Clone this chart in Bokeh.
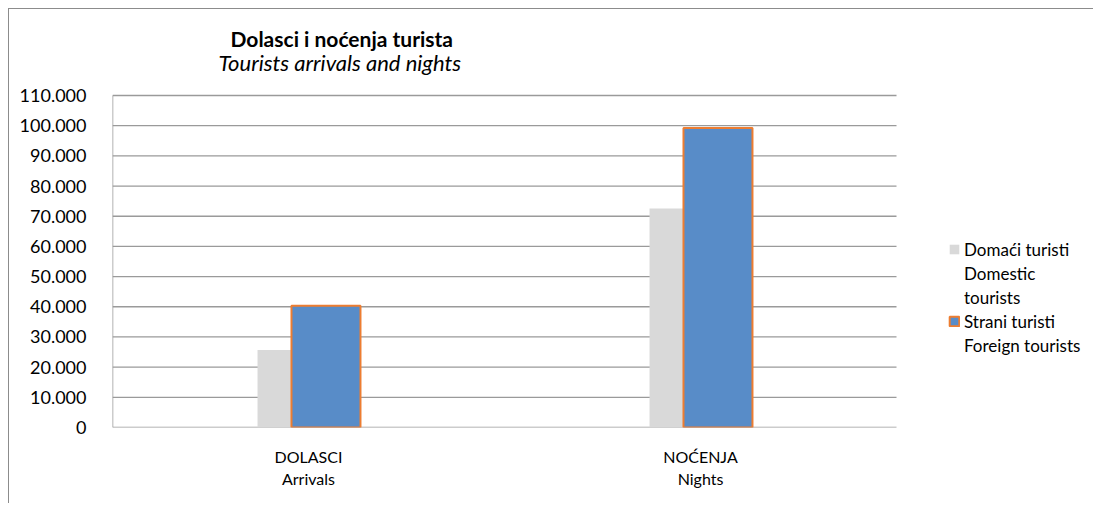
from bokeh.plotting import figure
from bokeh.models import (ColumnDataSource, Range1d, FixedTicker, Legend, LegendItem, Label)
from bokeh.embed import file_html
from bokeh.resources import INLINE

categories = ["DOLASCI\nArrivals", "NOĆENJA\nNights"]
domestic = [25700, 72600]
foreign = [40300, 99200]
y_ticks = [0, 10000, 20000, 30000, 40000, 50000, 60000, 70000, 80000, 90000, 100000, 110000]
y_tick_labels = ["0", "10.000", "20.000", "30.000", "40.000", "50.000", "60.000",
                 "70.000", "80.000", "90.000", "100.000", "110.000"]
legend_labels = ["Domaći turisti", "Domestic", "tourists", "Strani turisti", "Foreign tourists"]
title_main = "Dolasci i noćenja turista"
title_sub = "Tourists arrivals and nights"

FONT = "Lato"

# layout constants (pixels)
W, H = 1085, 495
LEFT, BOTTOM = 103, 77
CAT_PX = 392            # width of one category
AXIS_PX = 332           # height of the 0..110000 axis
Y_MAX = y_ticks[-1]

xc = [i + 0.5 for i in range(len(categories))]
DOM_OFF, DOM_W = -0.0867, 0.0867
FOR_OFF, FOR_W = 0.0446, 0.176

src = ColumnDataSource(dict(
    x_dom=[x + DOM_OFF for x in xc], x_for=[x + FOR_OFF for x in xc],
    dom=domestic, for_=foreign))

frame_h = H - BOTTOM
p = figure(x_range=Range1d(0, (W - LEFT) / CAT_PX),
           y_range=Range1d(0, Y_MAX * frame_h / AXIS_PX),
           width=W, height=H, output_backend="svg", toolbar_location=None,
           min_border_left=LEFT, min_border_right=0, min_border_top=0,
           min_border_bottom=BOTTOM)
p.styles = {"border-top": "1px solid #8c8c8c", "border-left": "1px solid #8c8c8c",
            "margin": "8px 0 0 8px"}
p.outline_line_color = None
p.background_fill_color = "white"
p.border_fill_color = "white"
p.title.visible = False

n = len(categories)
# horizontal gridlines (0 line doubles as category axis line)
p.segment(x0=[0] * len(y_ticks), x1=[n] * len(y_ticks), y0=y_ticks, y1=y_ticks,
          line_color="#9a9a9a", line_width=1.3)
# value axis line
p.segment(x0=[0], x1=[0], y0=[0], y1=[Y_MAX], line_color="#999999", line_width=1.5)

r1 = p.vbar(x="x_dom", width=DOM_W, top="dom", source=src,
            fill_color="#D9D9D9", line_color=None)
r2 = p.vbar(x="x_for", width=FOR_W, top="for_", source=src,
            fill_color="#588CC8", line_color="#ED7D31", line_width=2)
blank = p.vbar(x=[], top=[], width=0.1, fill_alpha=0, line_alpha=0)

# axes
p.yaxis.ticker = FixedTicker(ticks=y_ticks)
p.yaxis.major_label_overrides = {t: l for t, l in zip(y_ticks, y_tick_labels)}
p.yaxis.major_tick_line_color = None
p.yaxis.minor_tick_line_color = None
p.yaxis.axis_line_color = None
p.yaxis.major_label_text_font = FONT
p.yaxis.major_label_text_font_size = "18px"
p.yaxis.major_label_text_color = "#000000"
p.yaxis.major_label_standoff = 20

p.xaxis.ticker = FixedTicker(ticks=xc)
p.xaxis.major_label_overrides = {x: c for x, c in zip(xc, categories)}
p.xaxis.major_tick_line_color = None
p.xaxis.minor_tick_line_color = None
p.xaxis.axis_line_color = None
p.xaxis.major_label_text_font = FONT
p.xaxis.major_label_text_font_size = "16px"
p.xaxis.major_label_text_color = "#000000"
p.xaxis.major_label_standoff = 13

p.xgrid.grid_line_color = None
p.ygrid.grid_line_color = None

# titles (placed in the space above the value axis)
def px_to_y(py_from_frame_bottom):
    return py_from_frame_bottom / AXIS_PX * Y_MAX

p.add_layout(Label(x=118 / CAT_PX, y=px_to_y(389), text=title_main, text_font=FONT,
                   text_font_size="21px", text_font_style="bold", text_color="black",
                   text_baseline="middle", text_align="left"))
p.add_layout(Label(x=106 / CAT_PX, y=px_to_y(365), text=title_sub, text_font=FONT,
                   text_font_size="22px", text_font_style="italic", text_color="black",
                   text_baseline="middle", text_align="left"))

legend = Legend(items=[LegendItem(label=legend_labels[0], renderers=[r1]),
                       LegendItem(label=legend_labels[1], renderers=[blank]),
                       LegendItem(label=legend_labels[2], renderers=[blank]),
                       LegendItem(label=legend_labels[3], renderers=[r2]),
                       LegendItem(label=legend_labels[4], renderers=[blank])],
                location=(836, 70), padding=0, margin=0, spacing=0,
                glyph_width=12, glyph_height=12, label_standoff=4, label_height=24,
                border_line_color=None, background_fill_alpha=0,
                label_text_font=FONT, label_text_font_size="17px",
                label_text_color="black")
p.add_layout(legend, "center")

open("out.html", "w").write(file_html(p, INLINE))
